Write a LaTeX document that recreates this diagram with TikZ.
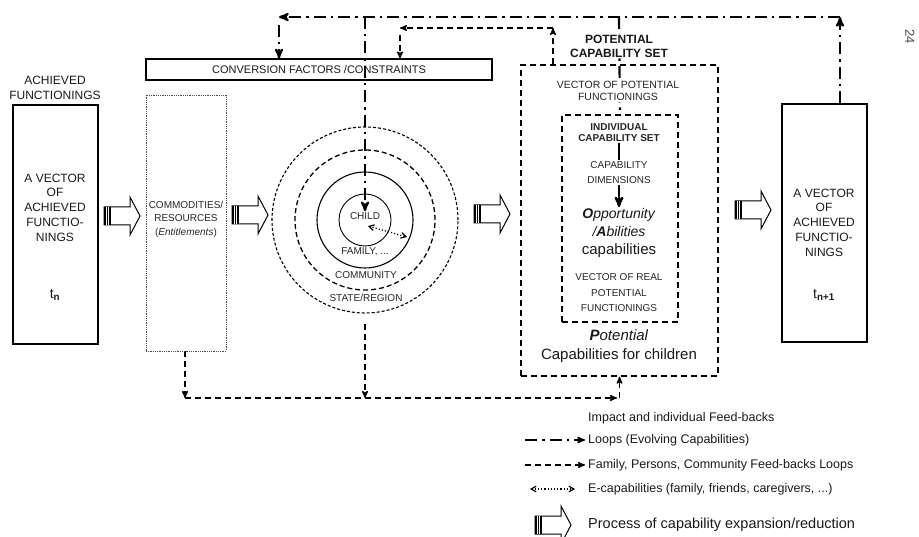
\documentclass[tikz,border=0pt]{standalone}
\usepackage{fontspec}
\setmainfont{Liberation Sans}
\usetikzlibrary{arrows,calc,backgrounds,positioning}

\tikzset{
 box/.style={draw, line width=1.1pt, inner sep=0pt},
 dbox/.style={draw, line width=1.3pt, dash pattern=on 6pt off 4pt, inner sep=0pt},
 txt/.style={align=center, text=black!90, inner sep=1pt, font=\fontsize{12}{14.75}\selectfont},
 smalltxt/.style={align=center, text=black!85, inner sep=1pt, font=\fontsize{10}{12.5}\selectfont},
 ring1/.style={line width=0.9pt},
 ring2/.style={line width=1.1pt},
 ring3/.style={line width=1.3pt, dash pattern=on 5pt off 3pt},
 ring4/.style={line width=1.1pt, dash pattern=on 3pt off 2pt},
 looparrow/.style={line width=2.2pt, dash pattern=on 12pt off 5pt on 2.5pt off 5pt, ->, >=stealth'},
 fbarrow/.style={line width=1.4pt, dash pattern=on 6pt off 4pt, ->, >=stealth'},
 ecaparrow/.style={line width=1.2pt, dotted, <->, >=angle 60},
 legend/.style={anchor=west, text=black!90, inner sep=0pt, font=\fontsize{12.5}{15}\selectfont},
 procarrow/.pic={
  \draw[line width=1pt, fill=white] (0,-9) -- (26,-9) -- (26,-19) -- (36,0) -- (26,19) -- (26,9) -- (0,9) -- cycle;
  \fill (0,-9) rectangle (7,9);
  \draw[white, line width=0.5pt] (2.3,-9) -- (2.3,9) (4.6,-9) -- (4.6,9);
 }
}

\begin{document}
\begin{tikzpicture}[x=1pt, y=-1pt]
\useasboundingbox (0,0) rectangle (919,537);

% left and right vectors
\node[txt] (achlbl) at (55,88) {ACHIEVED\\FUNCTIONINGS};
\node[box, minimum width=85pt, minimum height=239pt] (achl) at (55.5,224.5) {};
\node[txt] (achltxt) at (55,207.5) {A VECTOR\\OF\\ACHIEVED\\FUNCTIO-\\NINGS};
\node[txt, font=\fontsize{14}{16}\selectfont] (tn) at (55,295) {t\textsubscript{\textbf{n}}};

\node[box, minimum width=85pt, minimum height=238pt] (achr) at (824.5,223) {};
\node[txt] (achrtxt) at (824,222.5) {A VECTOR\\OF\\ACHIEVED\\FUNCTIO-\\NINGS};
\node[txt, font=\fontsize{14}{16}\selectfont] (tn1) at (824,295) {t\textsubscript{\textbf{n+1}}};

% conversion factors and commodities
\node[box, minimum width=346pt, minimum height=21pt, text=black!90,
  font=\fontsize{11}{13}\selectfont] (conv) at (319,69.5) {CONVERSION FACTORS /CONSTRAINTS};
\node[draw=black!70, line width=0.8pt, densely dotted, minimum width=80pt, minimum height=256pt] (comm) at (186,223) {};
\node[smalltxt, font=\fontsize{10}{13.5}\selectfont] (commtxt) at (186,219) {COMMODITIES/\\RESOURCES\\(\textit{Entitlements})};

% circles of the child
\foreach \nm/\d/\st in {state/186/ring4, comty/140/ring3, fam/96/ring2, child/52/ring1}
 \node[circle, draw, inner sep=0pt, minimum size=\d pt, \st] (\nm) at (365,220) {};
\node[smalltxt] (childlbl) at (365,216) {CHILD};
\node[smalltxt] (famlbl) at (365,252) {FAMILY, ...};
\node[smalltxt] (comtylbl) at (366,275) {COMMUNITY};
\node[smalltxt] (statelbl) at (366,298) {STATE/REGION};

% potential capability set
\node[dbox, minimum width=197pt, minimum height=311pt] (pot) at (619.5,220.5) {};
\node[txt, fill=white, font=\bfseries\fontsize{12}{14}\selectfont] (potlbl) at (619,46) {POTENTIAL\\CAPABILITY SET};
\node[smalltxt, fill=white, font=\fontsize{10.5}{12}\selectfont] (potvec) at (618,91) {VECTOR OF POTENTIAL\\FUNCTIONINGS};
\node[dbox, minimum width=116pt, minimum height=207pt] (indiv) at (620,218.5) {};
\node[smalltxt, font=\bfseries\fontsize{10}{11.5}\selectfont] (indivlbl) at (619,132.5) {INDIVIDUAL\\CAPABILITY SET};
\node[smalltxt, fill=white, font=\fontsize{10}{15}\selectfont] (capdim) at (619,172.5) {CAPABILITY\\DIMENSIONS};
\node[txt, font=\fontsize{14}{18}\selectfont] (opp) at (619,233) {\textit{\textbf{O}pportunity}\\\textit{/\textbf{A}bilities}\\{\fontsize{15}{18}\selectfont capabilities}};
\node[smalltxt, font=\fontsize{10}{15.5}\selectfont] (realvec) at (619,293) {VECTOR OF REAL\\POTENTIAL\\FUNCTIONINGS};
\node[txt, font=\fontsize{15}{19}\selectfont] (potchild) at (619,346.5) {\textit{\textbf{P}otential}\\Capabilities for children};

\node[text=black!70, rotate=-90, font=\fontsize{13}{15}\selectfont] (pagenum) at (910,37) {24};

% process arrows
\foreach \x/\y in {104/216, 232/215, 474/214, 735/210, 535/525}
 \pic at (\x,\y) {procarrow};

% loops and feed-backs
\coordinate (topR) at (840,17);
\coordinate (topL) at (279,17);
\coordinate (topM) at (365,17);
\coordinate (topP) at (619,17);
\coordinate (fbR) at (553,28);
\coordinate (fbL) at (400,28);
\coordinate (botL) at (185,398);
\coordinate (botM) at (365,398);
\coordinate (botR) at (617,398);
\coordinate (ecA) at (368,226);
\coordinate (ecB) at (407,237);
\begin{scope}[on background layer]
\draw[looparrow] (achr.north -| topR) -- (topR);
\draw[looparrow] (topR) -- (topL);
\draw[looparrow] ($(topL)+(0,8)$) -- (topL |- conv.north);
\draw[looparrow] (topM) -- (childlbl.north);
\draw[looparrow, -] (topP) -- (indiv.north);
\draw[line width=2.4pt, ->, >=stealth'] (indivlbl.south) -- (opp.north);
\draw[fbarrow] (pot.north -| fbR) -- (fbR);
\draw[fbarrow] (fbR) -- (fbL);
\draw[fbarrow] ($(fbL)+(0,7)$) -- (fbL |- conv.north);
\draw[fbarrow] (comm.south -| botL) -- (botL);
\draw[fbarrow] ($(state.south)+(0,10)$) -- (botM);
\draw[fbarrow] (botL) -- (botR);
\draw[fbarrow] (pot.south |- botL) -- (pot.south);
\draw[ecaparrow] (ecA) -- (ecB);
\end{scope}

% legend
\node[legend] (lgimpact) at (588,418) {Impact and individual Feed-backs};
\node[legend] (lgloop) at (588,440) {Loops (Evolving Capabilities)};
\node[legend] (lgfb) at (588,465) {Family, Persons, Community Feed-backs Loops};
\node[legend] (lgecap) at (588,489) {E-capabilities (family, friends, caregivers, ...)};
\node[legend, font=\fontsize{14.5}{17}\selectfont] (lgproc) at (588,525) {Process of capability expansion/reduction};
\coordinate (lgloopS) at (525,440);
\coordinate (lgfbS) at (525,465);
\coordinate (lgecapS) at (530,489);
\coordinate (lgecapE) at (575,489);
\draw[looparrow, line width=1.6pt] (lgloopS) -- ($(lgloop.west)+(-3,0)$);
\draw[fbarrow] (lgfbS) -- ($(lgfb.west)+(-3,0)$);
\draw[ecaparrow] (lgecapS) -- (lgecapE);
\end{tikzpicture}
\end{document}
